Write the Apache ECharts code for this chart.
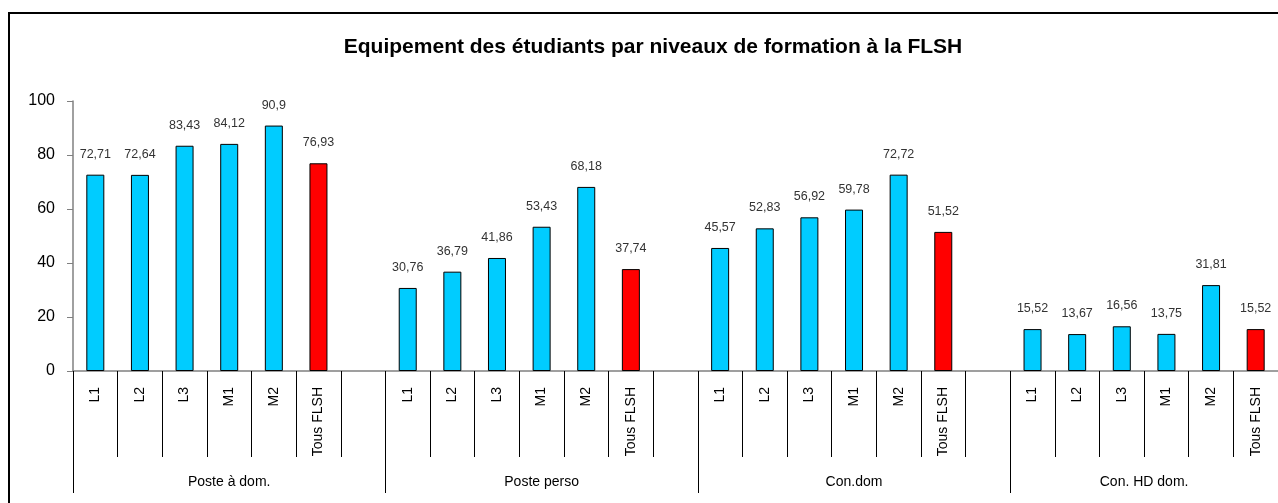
<!DOCTYPE html>
<html>
<head>
<meta charset="utf-8">
<script src="https://cdn.jsdelivr.net/npm/echarts@6/dist/echarts.min.js"></script>
<style>
  html, body { margin: 0; padding: 0; background: #fff; }
  #chart { width: 1278px; height: 503px; }
</style>
</head>
<body>
<div id="chart"></div>
<script>
const title = 'Equipement des étudiants par niveaux de formation à la FLSH'
const groups = ['Poste à dom.', 'Poste perso', 'Con.dom', 'Con. HD dom.']
const levels = ['L1', 'L2', 'L3', 'M1', 'M2', 'Tous FLSH']
const posteDom = [72.71, 72.64, 83.43, 84.12, 90.9, 76.93]
const postePerso = [30.76, 36.79, 41.86, 53.43, 68.18, 37.74]
const conDom = [45.57, 52.83, 56.92, 59.78, 72.72, 51.52]
const conHdDom = [15.52, 13.67, 16.56, 13.75, 31.81, 15.52]
const yTicks = [0, 20, 40, 60, 80, 100]

const blue = '#00CCFF'
const red = '#FF0000'
const font = "'Liberation Sans', Arial, sans-serif"

// one blank category between the groups, as in the Excel sheet
const allGroups = [posteDom, postePerso, conDom, conHdDom]
const categories = []
const barData = []
const groupStart = []
allGroups.forEach((vals, g) => {
  if (g > 0) {
    categories.push('')
    barData.push('-')
  }
  groupStart.push(categories.length)
  vals.forEach((v, i) => {
    categories.push(levels[i])
    barData.push({
      value: v,
      itemStyle: { color: levels[i] === 'Tous FLSH' ? red : blue }
    })
  })
})
const nCat = categories.length
const groupEnd = groupStart.slice(1).concat([nCat])
const groupCenters = groupStart.map((s, g) => (s + groupEnd[g]) / 2)
const groupTicks = groupStart.concat([nCat])

const chart = echarts.init(document.getElementById('chart'))
chart.setOption({
  animation: false,
  title: {
    text: title,
    left: 648,
    top: 32,
    textAlign: 'center',
    textStyle: { fontFamily: font, fontWeight: 'bold', fontSize: 21, color: '#000' }
  },
  graphic: [{
    type: 'rect',
    shape: { x: 9, y: 13, width: 1300, height: 520 },
    style: { fill: 'none', stroke: '#000', lineWidth: 2 }
  }],
  grid: { left: 73, top: 101, width: 1207, height: 270 },
  xAxis: [
    {
      type: 'category',
      data: categories,
      axisLine: { lineStyle: { color: '#808080', width: 1.5 } },
      axisTick: { show: true, interval: 0, length: 86, lineStyle: { color: '#000' } },
      axisLabel: {
        interval: 0,
        rotate: 90,
        margin: 16,
        fontFamily: font,
        fontSize: 14,
        color: '#000'
      }
    },
    {
      type: 'value',
      position: 'bottom',
      min: 0,
      max: nCat,
      axisLine: { show: false },
      splitLine: { show: false },
      axisTick: { show: true, customValues: groupTicks, length: 122, lineStyle: { color: '#000' } },
      axisLabel: {
        customValues: groupCenters,
        margin: 104,
        fontFamily: font,
        fontSize: 14,
        color: '#000',
        formatter: v => groups[groupCenters.indexOf(v)] || ''
      }
    }
  ],
  yAxis: {
    type: 'value',
    min: yTicks[0],
    max: yTicks[yTicks.length - 1],
    interval: 20,
    splitLine: { show: false },
    axisLine: { show: true, lineStyle: { color: '#808080', width: 1.5 } },
    axisTick: { show: true, length: 6, lineStyle: { color: '#808080' } },
    axisLabel: { fontFamily: font, fontSize: 16, color: '#000', margin: 18 }
  },
  series: [{
    type: 'bar',
    xAxisIndex: 0,
    barWidth: 18,
    data: barData,
    itemStyle: { borderColor: '#000', borderWidth: 1 },
    label: {
      show: true,
      position: 'top',
      distance: 14,
      fontFamily: font,
      fontSize: 12.5,
      color: '#333',
      formatter: p => String(p.value).replace('.', ',')
    }
  }]
})
</script>
</body>
</html>
